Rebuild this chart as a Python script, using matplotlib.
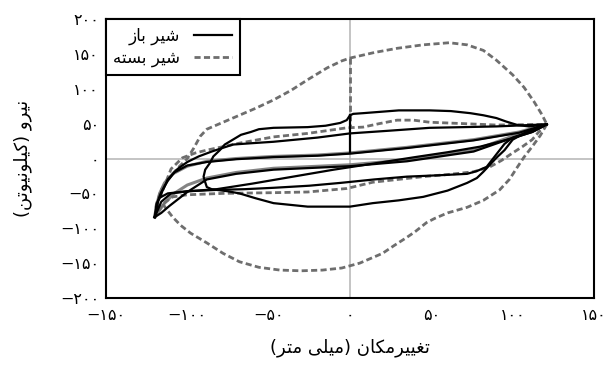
import matplotlib
matplotlib.use('Agg')
from matplotlib import pyplot as plt

# labels (Persian, written in visual order with presentation forms)
legend_open = '\uFEAF\uFE8E\uFE91 \uFEAE\uFEF4\uFEB7'            # شیر باز
legend_closed = '\uFEEA\uFE98\uFEB4\uFE91 \uFEAE\uFEF4\uFEB7'    # شیر بسته
xlabel = '(\uFEAE\uFE98\uFEE3 \uFEF0\uFEE0\uFEF4\uFEE3) \uFEE5\uFE8E\uFEDC\uFEE3\uFEAE\uFEF4\uFEF4\uFED0\uFE97'
ylabel = '(\uFEE6\uFE97\uFEEE\uFEF4\uFEE7\uFEEE\uFEE0\uFEF4\uFEDB) \uFEED\uFEAE\uFEF4\uFEE7'

xticks = [-150, -100, -50, 0, 50, 100, 150]
xtick_labels = ['\u2212\u06F1\u06F5\u06F0', '\u2212\u06F1\u06F0\u06F0', '\u2212\u06F5\u06F0', '\u06F0',
                '\u06F5\u06F0', '\u06F1\u06F0\u06F0', '\u06F1\u06F5\u06F0']
yticks = [-200, -150, -100, -50, 0, 50, 100, 150, 200]
ytick_labels = ['\u2212\u06F2\u06F0\u06F0', '\u2212\u06F1\u06F5\u06F0', '\u2212\u06F1\u06F0\u06F0', '\u2212\u06F5\u06F0',
                '\u06F0', '\u06F5\u06F0', '\u06F1\u06F0\u06F0', '\u06F1\u06F5\u06F0', '\u06F2\u06F0\u06F0']

# closed valve (dashed) - displacement mm / force kN
closed_big_x = [-120, -119, -116, -112, -106, -100, -96, -92, -88, -80, -68, -58, -47, -36, -26, -14, -5, 0,
                15, 29, 45, 61, 72, 82, 90, 100, 107, 113, 118, 121]
closed_big_y = [-84, -65, -45, -30, -14, 0, 15, 32, 42, 50, 62, 72, 84, 98, 113, 130, 140, 144,
                152, 158, 163, 166, 163, 155, 141, 120, 102, 82, 63, 49]
closed_big_low_x = [121, 117, 112, 107, 103, 98, 92, 82, 72, 60, 52, 47, 40, 35, 27, 20, 12, 6, -5, -17,
                    -30, -43, -56, -68, -78, -88, -98, -104, -109, -113, -116]
closed_big_low_y = [49, 33, 17, 2, -12, -30, -45, -60, -70, -78, -86, -92, -105, -113, -125, -136, -144, -150,
                    -157, -160, -161, -160, -156, -148, -136, -121, -107, -96, -84, -72, -62]
closed_step_x = [0, 0]
closed_step_y = [144, 44]
closed_mid_x = [-120, -118, -115, -110, -103, -95, -88, -78, -68, -47, -26, -2, 8, 18, 29, 39, 49, 70, 90, 121,
                116, 112, 106, 100, 93, 86, 76, 60, 45, 14, -2, -26, -47, -78, -100, -109, -115, -120]
closed_mid_y = [-84, -62, -45, -15, 1, 8, 12, 17, 22, 31, 36, 44, 45, 50, 55, 55, 52, 50, 48, 49,
                38, 27, 17, 8, -3, -12, -19, -23, -26, -34, -43, -48, -49, -50, -52, -55, -65, -84]
closed_in_x = [-120, -119, -117, -114, -109, -100, -88, -70, -47, -20, 0, 35, 76, 104, 121,
               117, 113, 100, 76, 35, 0, -47, -70, -88, -100, -108, -114, -120]
closed_in_y = [-84, -68, -50, -35, -22, -11, -4, 0, 3, 5, 8, 16, 27, 38, 49,
               45, 40, 32, 12, -2, -9, -14, -20, -28, -38, -50, -64, -84]

# open valve (solid)
open_mid_x = [121, 110, 103, 96, 90, 82, 74, 62, 49, 30, 8, 2, 0, -2, -6, -15, -26, -47, -56, -61, -67, -72,
              -77, -80, -84, -86, -89, -90, -89, -88, -85, -82, -75, -68, -58, -47, -26, 0, 14, 30, 45, 60, 72,
              78, 82, 86, 90, 95, 100, 110, 121]
open_mid_y = [49, 46, 48, 53, 58, 62, 65, 68, 69, 69, 65, 64, 62, 55, 51, 47, 45, 44, 42, 38, 34, 27,
              20, 12, 3, -6, -16, -26, -34, -41, -44, -45, -47, -50, -57, -64, -69, -69, -64, -60, -55, -46, -35,
              -28, -19, -9, 1, 12, 27, 40, 49]
open_step_x = [0, 0]
open_step_y = [62, 9]
open_second_x = [-120, -118, -115, -112, -106, -100, -93, -85, -72, -60, -47, -20, 0, 25, 49, 70, 90, 121,
                 110, 100, 95, 92, 88, 84, 78, 72, 55, 35, 15, -6, -25, -47, -65, -82, -100, -110, -116, -120]
open_second_y = [-84, -62, -45, -30, -15, -5, 3, 10, 20, 22, 24, 30, 36, 40, 44, 45, 46, 49,
                 38, 30, 21, 12, 0, -12, -18, -22, -24, -26, -30, -35, -39, -42, -44, -45, -47, -50, -62, -84]
open_diag_x = [-116, -112, -100, -82, -60, -40, -10, 18, 40, 60, 80, 100, 112, 121]
open_diag_y = [-55, -50, -47, -44, -36, -28, -16, -6, 2, 9, 17, 29, 38, 49]
open_in_x = [-120, -119, -116, -112, -108, -100, -88, -70, -47, -20, 0, 35, 76, 104, 121,
             117, 112, 98, 76, 35, 0, -47, -70, -88, -100, -111, -116, -120]
open_in_y = [-84, -66, -48, -32, -20, -10, -5, -1, 2, 4, 7, 15, 26, 37, 49,
             44, 38, 28, 10, -4, -11, -16, -22, -30, -48, -68, -78, -84]

plt.rcParams['font.family'] = ['DejaVu Sans']

fig = plt.figure(figsize=(6.14, 3.70), dpi=100)
ax = fig.add_axes([0.1726, 0.1946, 0.7948, 0.754])

ax.axhline(0, color='#b4b4b4', lw=1.1, zorder=1)
ax.axvline(0, color='#b4b4b4', lw=1.1, zorder=1)

gray = '#6e6e6e'
dash = (0, (2.2, 1.2))
lw_d = 2.0
lw_s = 1.6
ax.plot(closed_big_x, closed_big_y, color=gray, lw=lw_d, ls=dash, label=legend_closed, zorder=2)
ax.plot(closed_big_low_x, closed_big_low_y, color=gray, lw=lw_d, ls=dash, zorder=2)
ax.plot(closed_step_x, closed_step_y, color=gray, lw=lw_d, ls=dash, zorder=2)
ax.plot(closed_mid_x, closed_mid_y, color=gray, lw=lw_d, ls=dash, zorder=2)
ax.plot(closed_in_x, closed_in_y, color=gray, lw=2.2, zorder=2, alpha=0.85)

ax.plot(open_mid_x, open_mid_y, color='black', lw=lw_s, label=legend_open, zorder=3)
ax.plot(open_step_x, open_step_y, color='black', lw=lw_s, zorder=3)
ax.plot(open_second_x, open_second_y, color='black', lw=lw_s, zorder=3)
ax.plot(open_diag_x, open_diag_y, color='black', lw=lw_s, zorder=3)
ax.plot(open_in_x, open_in_y, color='black', lw=lw_s, zorder=3)

ax.set_xlim(-150, 150)
ax.set_ylim(-200, 200)
ax.set_xticks(xticks)
ax.set_xticklabels(xtick_labels)
ax.set_yticks(yticks)
ax.set_yticklabels(ytick_labels)
ax.tick_params(length=0, labelsize=11.5)
ax.tick_params(axis='x', pad=7)
ax.tick_params(axis='y', pad=5)
for s in ax.spines.values():
    s.set_linewidth(1.5)
    s.set_color('black')

ax.set_xlabel(xlabel, fontsize=13, labelpad=11)
ax.set_ylabel(ylabel, fontsize=13, labelpad=20)

h, l = ax.get_legend_handles_labels()
leg = ax.legend(h[::-1], l[::-1], loc='upper left', markerfirst=False, fontsize=12,
                borderaxespad=0, fancybox=False, framealpha=1, handlelength=2.3,
                labelspacing=0.25, borderpad=0.45)
leg.get_frame().set_edgecolor('black')
leg.get_frame().set_linewidth(1.5)

fig.savefig('out.png', dpi=100)
